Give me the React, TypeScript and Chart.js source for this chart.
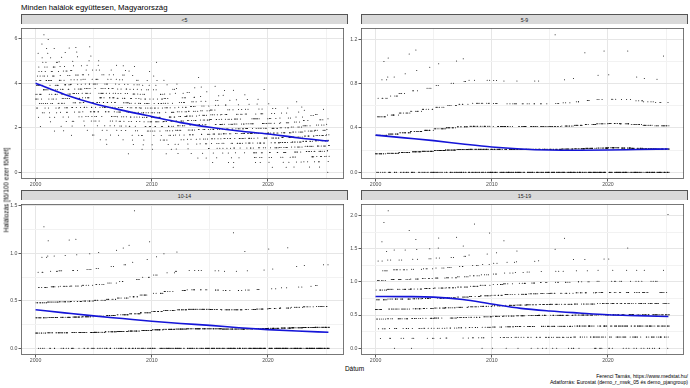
import React, { useEffect, useRef } from "react";
import { Chart, registerables } from "chart.js";
Chart.register(...registerables);

// ---------- DATA ----------
const years = [2000, 2001, 2002, 2003, 2004, 2005, 2006, 2007, 2008, 2009, 2010, 2011, 2012, 2013, 2014, 2015, 2016, 2017, 2018, 2019, 2020, 2021, 2022, 2023, 2024, 2025];

// rate of one death per week for each year (spacing of the dot rows)
const stepU5 = [0.206, 0.206, 0.207, 0.208, 0.209, 0.209, 0.209, 0.208, 0.207, 0.206, 0.206, 0.207, 0.209, 0.211, 0.213, 0.215, 0.216, 0.217, 0.218, 0.219, 0.22, 0.222, 0.226, 0.232, 0.236, 0.24];
const step5to9 = [0.167, 0.172, 0.178, 0.184, 0.19, 0.196, 0.201, 0.205, 0.208, 0.208, 0.207, 0.206, 0.206, 0.206, 0.206, 0.207, 0.209, 0.212, 0.216, 0.219, 0.22, 0.219, 0.215, 0.212, 0.21, 0.21];
const step10to14 = [0.16, 0.162, 0.163, 0.164, 0.166, 0.168, 0.172, 0.176, 0.181, 0.187, 0.193, 0.199, 0.203, 0.205, 0.205, 0.204, 0.203, 0.203, 0.204, 0.206, 0.209, 0.212, 0.215, 0.218, 0.22, 0.22];
const step15to19 = [0.146, 0.148, 0.148, 0.149, 0.15, 0.151, 0.152, 0.154, 0.156, 0.158, 0.16, 0.162, 0.163, 0.164, 0.165, 0.166, 0.166, 0.167, 0.167, 0.168, 0.168, 0.168, 0.168, 0.168, 0.168, 0.168];

// weeks per year with a given weekly death count (first entry = count startU5[i] / 0)
const startU5 = [10, 9, 9, 8, 7, 7, 6, 4, 6, 5, 5, 4, 4, 3, 3, 2, 2, 1, 2, 2, 1, 1, 1, 1, 1, 0];
const histU5 = [
  [1, 0, 1, 2, 3, 4, 4, 5, 5, 5, 5, 4, 3, 3, 2, 1, 1, 1, 1, 0, 1],
  [1, 0, 1, 2, 2, 3, 4, 4, 5, 5, 5, 4, 4, 3, 3, 2, 1, 1, 1, 0, 1],
  [1, 1, 1, 2, 3, 4, 4, 5, 5, 5, 5, 4, 3, 3, 2, 1, 1, 1, 1],
  [1, 0, 1, 2, 2, 3, 4, 5, 5, 5, 5, 4, 4, 3, 2, 2, 1, 1, 1, 1],
  [0, 1, 1, 1, 2, 3, 4, 5, 5, 5, 5, 4, 4, 3, 3, 2, 1, 1, 1, 0, 1],
  [1, 1, 1, 2, 3, 3, 4, 5, 5, 5, 5, 4, 4, 3, 2, 2, 1, 1],
  [1, 1, 1, 2, 2, 3, 4, 5, 5, 5, 5, 4, 4, 3, 3, 2, 1, 1],
  [1, 0, 0, 1, 1, 2, 3, 3, 4, 5, 5, 5, 5, 4, 4, 3, 2, 2, 1, 1],
  [1, 1, 2, 2, 3, 4, 5, 5, 5, 5, 4, 4, 3, 3, 2, 1, 1, 1],
  [1, 1, 1, 2, 3, 4, 5, 5, 6, 5, 5, 4, 3, 3, 2, 1, 0, 1],
  [1, 1, 2, 2, 3, 4, 5, 6, 5, 5, 5, 4, 3, 2, 1, 1, 1, 0, 0, 1],
  [1, 1, 1, 2, 3, 4, 5, 6, 6, 5, 5, 4, 3, 2, 2, 1, 1],
  [1, 1, 2, 2, 3, 5, 6, 6, 6, 5, 4, 4, 3, 2, 1, 1],
  [1, 1, 1, 2, 3, 4, 5, 6, 6, 6, 5, 4, 3, 2, 2, 1],
  [1, 1, 2, 3, 4, 5, 6, 6, 6, 5, 4, 3, 2, 1, 1, 1, 0, 1],
  [1, 1, 1, 2, 3, 5, 6, 6, 6, 6, 5, 4, 2, 2, 1, 0, 1],
  [1, 1, 2, 3, 4, 5, 6, 7, 6, 5, 4, 3, 2, 1, 1, 1],
  [1, 1, 1, 2, 3, 5, 6, 7, 6, 6, 5, 4, 2, 1, 1, 0, 1],
  [1, 2, 3, 4, 5, 6, 7, 6, 6, 4, 3, 2, 1, 1, 1],
  [1, 2, 3, 4, 6, 6, 7, 6, 5, 4, 3, 2, 1, 1, 0, 1],
  [1, 1, 2, 4, 5, 6, 7, 7, 6, 5, 3, 2, 2, 1],
  [1, 2, 3, 4, 6, 7, 7, 7, 5, 4, 3, 2, 1],
  [1, 2, 3, 5, 6, 8, 7, 7, 5, 3, 2, 1, 1, 1],
  [1, 2, 4, 6, 7, 8, 7, 6, 5, 3, 2, 1],
  [1, 3, 4, 6, 7, 8, 7, 6, 4, 3, 2, 1],
  [1, 0, 1, 2, 2, 2, 2, 2, 1, 1, 1],
];
const hist5to9 = [
  [7, 14, 14, 9, 5, 2, 1], [8, 15, 14, 8, 4, 2, 1], [9, 16, 13, 8, 4, 1, 1], [10, 17, 13, 7, 3, 1, 1],
  [11, 18, 12, 7, 3, 1], [12, 19, 12, 6, 2, 1], [13, 19, 12, 5, 2, 1], [14, 19, 11, 5, 2, 1],
  [15, 19, 11, 5, 2], [16, 19, 10, 5, 2], [17, 19, 10, 4, 2], [18, 19, 10, 4, 1],
  [18, 19, 10, 4, 1], [19, 19, 9, 4, 1], [19, 19, 10, 3, 1], [19, 19, 10, 3, 0, 0, 1],
  [20, 18, 10, 3, 1], [20, 18, 10, 3, 1], [20, 18, 10, 3, 0, 1], [20, 18, 9, 3, 1, 1],
  [20, 18, 10, 3, 1], [20, 18, 10, 3, 0, 1], [19, 18, 10, 4, 1], [19, 18, 10, 4, 1],
  [19, 18, 10, 3, 1, 1], [6, 5, 3, 1],
];
const hist10to14 = [
  [4, 11, 13, 11, 7, 3, 2, 0, 1], [4, 11, 13, 11, 7, 3, 2, 1], [5, 12, 13, 11, 6, 3, 1, 1], [5, 12, 14, 10, 6, 3, 1, 1],
  [6, 13, 14, 10, 5, 3, 1], [7, 14, 14, 9, 5, 2, 1], [8, 15, 14, 8, 4, 2, 1], [9, 16, 13, 8, 3, 2, 1],
  [10, 17, 12, 7, 3, 1, 1, 0, 1], [11, 17, 12, 7, 3, 1, 1], [12, 18, 12, 6, 3, 1], [13, 18, 12, 6, 2, 1],
  [14, 18, 12, 5, 2, 1], [15, 18, 12, 5, 2], [16, 18, 12, 4, 2], [16, 19, 11, 4, 2],
  [17, 19, 11, 4, 1], [18, 19, 10, 3, 1, 0, 1], [19, 19, 9, 3, 1, 1], [20, 19, 9, 3, 1],
  [21, 19, 8, 2, 1, 1], [22, 19, 8, 2, 0, 1], [22, 20, 7, 2, 1], [23, 20, 7, 1, 1],
  [23, 19, 7, 2, 1], [7, 5, 2, 0, 1],
];
const hist15to19 = [
  [0, 1, 4, 6, 9, 9, 8, 6, 4, 2, 1, 1, 0, 1], [1, 2, 4, 6, 8, 9, 8, 6, 4, 2, 1, 0, 0, 0, 1],
  [0, 2, 4, 7, 8, 9, 8, 6, 4, 2, 1, 0, 1], [1, 2, 4, 7, 9, 9, 8, 5, 3, 2, 1, 1],
  [0, 2, 4, 7, 9, 9, 8, 6, 4, 2, 1], [0, 2, 5, 7, 9, 9, 8, 5, 3, 2, 1, 1],
  [0, 2, 5, 7, 9, 9, 8, 6, 3, 2, 0, 1], [0, 2, 5, 8, 9, 9, 8, 5, 3, 2, 1],
  [0, 3, 6, 8, 9, 9, 7, 5, 3, 1, 0, 0, 1], [1, 3, 6, 9, 10, 9, 6, 4, 2, 1, 0, 1],
  [1, 3, 7, 10, 10, 9, 6, 3, 2, 1], [1, 4, 8, 10, 10, 8, 5, 3, 2, 0, 1],
  [1, 5, 9, 10, 10, 8, 5, 2, 1, 1], [2, 5, 9, 11, 10, 8, 4, 2, 1],
  [2, 6, 10, 11, 10, 7, 4, 1, 1], [2, 6, 10, 12, 10, 6, 3, 2, 0, 1],
  [2, 7, 11, 11, 9, 6, 4, 1, 0, 0, 1], [3, 7, 11, 12, 8, 6, 3, 1, 1],
  [3, 7, 11, 12, 9, 6, 2, 1, 1], [3, 8, 11, 12, 8, 6, 2, 1, 1],
  [3, 7, 11, 12, 8, 6, 3, 1, 1], [3, 8, 12, 11, 8, 5, 3, 1, 0, 1],
  [3, 8, 12, 12, 8, 5, 3, 1], [4, 8, 12, 12, 8, 5, 2, 1],
  [3, 8, 11, 13, 9, 5, 2, 1], [1, 2, 4, 4, 2, 1, 0, 0, 0, 0, 0, 0, 1],
];

// smoothed trend (blue line)
const smoothX = [2000, 2002.5, 2005, 2007.5, 2010, 2012.5, 2015, 2017.5, 2020, 2022.5, 2025.2];
const smoothU5 = [4.0, 3.5, 3.09, 2.78, 2.5, 2.23, 2.02, 1.85, 1.72, 1.55, 1.4];
const smooth5to9 = [0.335, 0.31, 0.285, 0.255, 0.228, 0.21, 0.2, 0.198, 0.2, 0.205, 0.21];
const smooth10to14 = [0.405, 0.372, 0.34, 0.312, 0.284, 0.26, 0.24, 0.215, 0.195, 0.18, 0.167];
const smooth15to19 = [0.78, 0.778, 0.77, 0.734, 0.665, 0.6, 0.56, 0.53, 0.503, 0.49, 0.478];

const panelNames = ["<5", "5-9", "10-14", "15-19"];
const xMajor = [2000, 2010, 2020];
const xMinor = [2005, 2015, 2025];
const yMajorU5 = [0, 2, 4, 6];
const yMinorU5 = [1, 3, 5];
const yMajor5to9 = [0, 0.4, 0.8, 1.2];
const yMinor5to9 = [0.2, 0.6, 1.0];
const yMajor10to14 = [0, 0.5, 1.0, 1.5];
const yMinor10to14 = [0.25, 0.75, 1.25];
const yMajor15to19 = [0, 0.5, 1.0, 1.5, 2.0];
const yMinor15to19 = [0.25, 0.75, 1.25, 1.75];

const TITLE = "Minden halálok együttesen, Magyarország";
const Y_TITLE = "Halálozás [fő/100 ezer fő/hét]";
const X_TITLE = "Dátum";
const CAPTION1 = "Ferenci Tamás, https://www.medstat.hu/";
const CAPTION2 = "Adatforrás: Eurostat (demo_r_mwk_05 és demo_pjangroup)";

// ---------- helpers ----------
type Pt = { x: number; y: number };
// deterministic ordering key for the weeks of a year (only decides which week
// holds which of the year's values; the values themselves come from the tables)
function orderKey(w: number, yr: number): number {
  const v = Math.sin(w * 12.9898 + yr * 78.233) * 43758.5453;
  return v - Math.floor(v);
}
function buildPoints(step: number[], hist: number[][], start?: number[]): Pt[] {
  const pts: Pt[] = [];
  years.forEach((yr, i) => {
    const k0 = start ? start[i] : 0;
    const vals: number[] = [];
    hist[i].forEach((n, j) => { for (let c = 0; c < n; c++) vals.push((k0 + j) * step[i]); });
    const n = vals.length;
    const weeks = Array.from({ length: n }, (_, w) => w).sort((a, b) => orderKey(a, yr) - orderKey(b, yr));
    weeks.forEach((w, r) => pts.push({ x: yr + (w + 0.5) / 52.18, y: vals[r] }));
  });
  return pts;
}

const FONT = "'Liberation Sans', Arial, Helvetica, sans-serif";
const AXIS_H = 9;

const borderPlugin = {
  id: "panelBorder",
  afterDraw(chart: any) {
    const { ctx, chartArea: a } = chart;
    ctx.save();
    ctx.strokeStyle = "#555555";
    ctx.lineWidth = 0.8;
    ctx.strokeRect(a.left + 0.4, a.top + 0.4, a.right - a.left - 0.8, a.bottom - a.top - 0.8);
    ctx.restore();
  },
};

type PanelProps = {
  left: number; top: number; width: number; height: number; axisW: number;
  points: Pt[]; smooth: number[]; yMajor: number[]; yMinor: number[]; yDigits: number;
};

function Panel(p: PanelProps) {
  const ref = useRef<HTMLCanvasElement>(null);
  useEffect(() => {
    if (!ref.current) return;
    const xs = p.points.map((d) => d.x);
    const ys = p.points.map((d) => d.y);
    const xMin = Math.min(...xs), xMax = Math.max(...xs);
    const yMin = Math.min(...ys), yMax = Math.max(...ys);
    const xPad = (xMax - xMin) * 0.05, yPad = (yMax - yMin) * 0.05;
    const isMajor = (arr: number[], v: number) => arr.some((m) => Math.abs(m - v) < 1e-9);
    const gridColor = (arr: number[]) => (ctx: any) => (isMajor(arr, ctx.tick?.value) ? "#E6E6E6" : "#F2F2F2");
    const tickColor = (arr: number[]) => (ctx: any) => (isMajor(arr, ctx.tick?.value) ? "#333333" : "rgba(0,0,0,0)");
    const chart = new Chart(ref.current, {
      type: "scatter",
      data: {
        datasets: [
          {
            type: "line",
            data: smoothX.map((x, i) => ({ x, y: p.smooth[i] })),
            borderColor: "#1414D8",
            borderWidth: 1.6,
            pointRadius: 0,
            cubicInterpolationMode: "monotone",
            fill: false,
            order: 0,
          } as any,
          {
            data: p.points,
            pointRadius: 0.5,
            pointBorderWidth: 0,
            pointBackgroundColor: "#000000",
            backgroundColor: "#000000",
            order: 1,
          },
        ],
      },
      options: {
        animation: false,
        responsive: false,
        devicePixelRatio: 1,
        layout: { padding: 0 },
        plugins: { legend: { display: false }, tooltip: { enabled: false } },
        events: [],
        scales: {
          x: {
            type: "linear",
            min: xMin - xPad,
            max: xMax + xPad,
            afterBuildTicks: (s: any) => { s.ticks = [...xMajor, ...xMinor].sort((a, b) => a - b).map((v) => ({ value: v })); },
            afterFit: (s: any) => { s.height = AXIS_H; s.paddingLeft = 0; s.paddingRight = 0; s.paddingTop = 0; s.paddingBottom = 0; },
            ticks: {
              autoSkip: false, maxRotation: 0, padding: 0,
              color: "#4D4D4D", font: { family: FONT, size: 5.2 },
              callback: (v: any) => (isMajor(xMajor, Number(v)) ? String(v) : ""),
            },
            grid: { color: gridColor(xMajor), lineWidth: 1, tickLength: 2.5, tickColor: tickColor(xMajor), tickWidth: 0.8 },
            border: { display: false },
          },
          y: {
            type: "linear",
            min: yMin - yPad,
            max: yMax + yPad,
            afterBuildTicks: (s: any) => { s.ticks = [...p.yMajor, ...p.yMinor].sort((a, b) => a - b).map((v) => ({ value: v })); },
            afterFit: (s: any) => { s.width = p.axisW; s.paddingLeft = 0; s.paddingRight = 0; s.paddingTop = 0; s.paddingBottom = 0; },
            ticks: {
              autoSkip: false, padding: 1,
              color: "#4D4D4D", font: { family: FONT, size: 5.2 },
              callback: (v: any) => (isMajor(p.yMajor, Number(v)) ? Number(v).toFixed(p.yDigits) : ""),
            },
            grid: { color: gridColor(p.yMajor), lineWidth: 1, tickLength: 2.5, tickColor: tickColor(p.yMajor), tickWidth: 0.8 },
            border: { display: false },
          },
        },
      },
      plugins: [borderPlugin],
    } as any);
    return () => chart.destroy();
  }, []);
  const w = p.width + p.axisW;
  const h = p.height + AXIS_H;
  return (
    <canvas
      ref={ref}
      width={w}
      height={h}
      style={{ position: "absolute", left: p.left - p.axisW, top: p.top, width: w, height: h }}
    />
  );
}

function Strip({ left, top, width, label }: { left: number; top: number; width: number; label: string }) {
  return (
    <div
      style={{
        position: "absolute", left, top, width, height: 10, boxSizing: "border-box",
        background: "#D9D9D9", border: "0.8px solid #555555", borderBottom: "none",
        fontFamily: FONT, fontSize: 5.2, lineHeight: "10px", textAlign: "center", color: "#1A1A1A",
      }}
    >
      {label}
    </div>
  );
}

export default function App() {
  const L1 = 21, R1 = 348, L2 = 361, R2 = 688;
  const T1 = 24, H1 = 155, T2 = 200, H2 = 155;
  const pU5 = buildPoints(stepU5, histU5, startU5);
  const p59 = buildPoints(step5to9, hist5to9);
  const p1014 = buildPoints(step10to14, hist10to14);
  const p1519 = buildPoints(step15to19, hist15to19);
  return (
    <div style={{ position: "fixed", left: 0, top: 0, width: 690, height: 388, background: "#FFFFFF", overflow: "hidden", fontFamily: FONT }}>
      <div style={{ position: "absolute", left: 21, top: 2.5, fontSize: 7.8, lineHeight: "9px", color: "#000", whiteSpace: "nowrap" }}>{TITLE}</div>

      <Strip left={L1} top={T1 - 10} width={R1 - L1} label={panelNames[0]} />
      <Strip left={L2} top={T1 - 10} width={R2 - L2} label={panelNames[1]} />
      <Strip left={L1} top={T2 - 10} width={R1 - L1} label={panelNames[2]} />
      <Strip left={L2} top={T2 - 10} width={R2 - L2} label={panelNames[3]} />

      <Panel left={L1} top={T1} width={R1 - L1} height={H1} axisW={20} points={pU5} smooth={smoothU5} yMajor={yMajorU5} yMinor={yMinorU5} yDigits={0} />
      <Panel left={L2} top={T1} width={R2 - L2} height={H1} axisW={13} points={p59} smooth={smooth5to9} yMajor={yMajor5to9} yMinor={yMinor5to9} yDigits={1} />
      <Panel left={L1} top={T2} width={R1 - L1} height={H2} axisW={20} points={p1014} smooth={smooth10to14} yMajor={yMajor10to14} yMinor={yMinor10to14} yDigits={1} />
      <Panel left={L2} top={T2} width={R2 - L2} height={H2} axisW={13} points={p1519} smooth={smooth15to19} yMajor={yMajor15to19} yMinor={yMinor15to19} yDigits={1} />

      <div style={{ position: "absolute", left: 6, top: 189.5, transform: "translate(-50%, -50%) rotate(-90deg)", fontSize: 6.5, lineHeight: "7px", whiteSpace: "nowrap", color: "#000" }}>{Y_TITLE}</div>
      <div style={{ position: "absolute", left: 354.5, top: 368, transform: "translate(-50%, -50%)", fontSize: 6.5, lineHeight: "7px", whiteSpace: "nowrap", color: "#000" }}>{X_TITLE}</div>
      <div style={{ position: "absolute", right: 2, top: 372.8, fontSize: 5.2, lineHeight: "6.5px", textAlign: "right", whiteSpace: "nowrap", color: "#000" }}>
        <div>{CAPTION1}</div>
        <div>{CAPTION2}</div>
      </div>
    </div>
  );
}
